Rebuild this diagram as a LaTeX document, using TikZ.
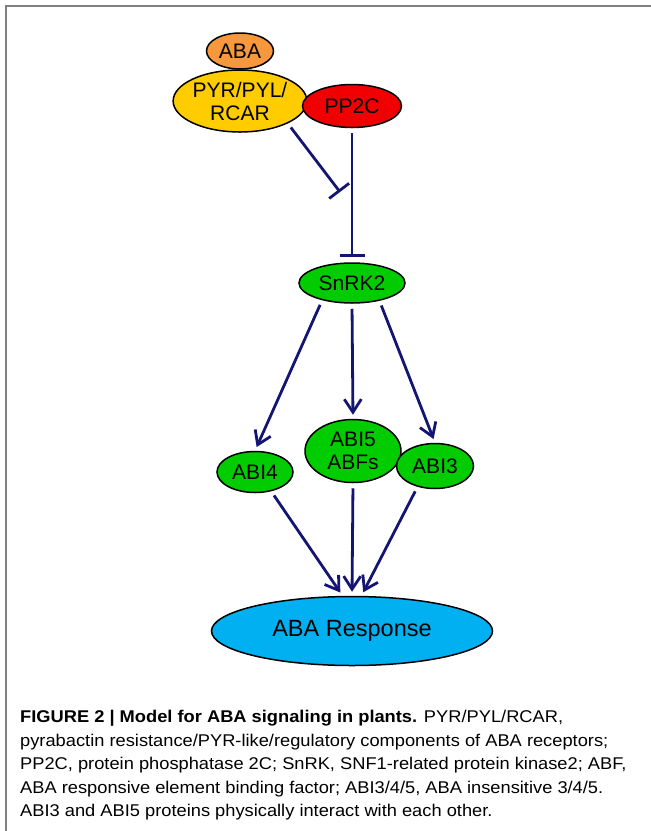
\documentclass[tikz,border=0pt]{standalone}
\usepackage{fontspec}
\setmainfont{Liberation Sans}
\newfontfamily\captionfont{Liberation Sans}[FakeStretch=1.075]
\usepackage{tikz}
\usetikzlibrary{arrows.meta, shapes.geometric, positioning}

\definecolor{LineColor}{RGB}{20,20,115}
\definecolor{AbaColor}{RGB}{247,152,60}
\definecolor{ReceptorColor}{RGB}{255,204,0}
\definecolor{PhosphataseColor}{RGB}{240,0,0}
\definecolor{KinaseColor}{RGB}{0,204,0}
\definecolor{ResponseColor}{RGB}{0,176,240}
\definecolor{FrameColor}{RGB}{128,128,128}

\tikzstyle{blob} = [ellipse, draw=black, line width=1.5pt, inner sep=0pt, align=center, font=\fontsize{21pt}{23pt}\selectfont]
\tikzstyle{activate} = [line width=2.8pt, LineColor, -{Straight Barb[length=13pt,width=17pt]}, shorten <=5pt, shorten >=4pt]
\tikzstyle{inhibit} = [line width=2.8pt, LineColor, -{Bar[width=25pt]}, shorten <=5pt]

\begin{document}
\begin{tikzpicture}[x=1pt, y=-1pt]
                \useasboundingbox (0,0) rectangle (651,831);
                \draw[FrameColor, line width=2pt] (6,831) -- (6,6) -- (651,6);
                
                % receptor complex and phosphatase
                \node[blob, fill=AbaColor, minimum width=67pt, minimum height=36pt] (aba) at (240,51) {ABA};
                \node[blob, fill=ReceptorColor, minimum width=133pt, minimum height=62pt] (pyr) at (240,101) {PYR/PYL/\\RCAR};
                \node[blob, fill=PhosphataseColor, minimum width=99pt, minimum height=43pt] (pp2c) at (352,106) {PP2C};
                
                % kinase and transcription factors
                \node[blob, fill=KinaseColor, minimum width=106pt, minimum height=40pt] (snrk) at (352,283) {SnRK2};
                \node[blob, fill=KinaseColor, minimum width=76pt, minimum height=41pt] (abi4) at (255,472) {ABI4};
                \node[blob, fill=KinaseColor, minimum width=96pt, minimum height=63pt] (abi5) at (353,451) {ABI5\\ABFs};
                \node[blob, fill=KinaseColor, minimum width=77pt, minimum height=45pt] (abi3) at (435,466) {ABI3};
                \node[blob, fill=ResponseColor, minimum width=281pt, minimum height=69pt, font=\fontsize{23.5pt}{26pt}\selectfont] (resp) at (352,631) {ABA Response};
                
                % inhibition
                \coordinate (block) at (340,192);
                \draw[inhibit] (pyr.south east) -- (block);
                \draw[inhibit, shorten >=5pt] (pp2c.south) -- (snrk.north);
                
                % activation
                \draw[activate] (snrk.-150) -- (abi4.north);
                \draw[activate] (snrk.south) -- (abi5.north);
                \draw[activate] (snrk.-33) -- (abi3.north);
                \draw[activate] (abi4.-50) -- (resp.105);
                \draw[activate] (abi5.south) -- (resp.north);
                \draw[activate] (abi3.-130) -- (resp.75);
                
                \node[anchor=north west, align=left, inner sep=0pt, font=\captionfont\fontsize{17pt}{23.5pt}\selectfont] (caption) at (20,710) {\textbf{FIGURE 2 | Model for ABA signaling in plants.} PYR/PYL/RCAR,\\pyrabactin resistance/PYR-like/regulatory components of ABA receptors;\\PP2C, protein phosphatase 2C; SnRK, SNF1-related protein kinase2; ABF,\\ABA responsive element binding factor; ABI3/4/5, ABA insensitive 3/4/5.\\ABI3 and ABI5 proteins physically interact with each other.};
            \end{tikzpicture}
\end{document}
